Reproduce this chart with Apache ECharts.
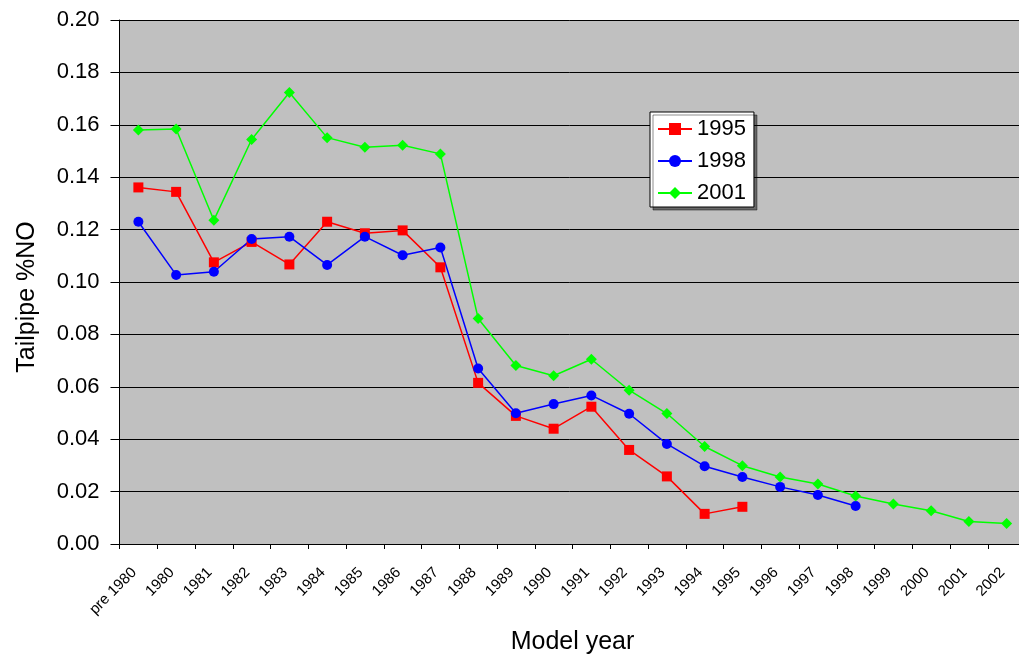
<!DOCTYPE html>
<html>
<head>
<meta charset="utf-8">
<title>Tailpipe %NO by model year</title>
<script src="https://cdn.jsdelivr.net/npm/echarts@6/dist/echarts.min.js"></script>
<style>
  html, body { margin: 0; padding: 0; background: #ffffff; }
  #chart { width: 1019px; height: 657px; }
</style>
</head>
<body>
<div id="chart"></div>
<script>
// Model-year categories along the x axis
const modelYears = ['pre 1980', '1980', '1981', '1982', '1983', '1984', '1985', '1986',
  '1987', '1988', '1989', '1990', '1991', '1992', '1993', '1994', '1995', '1996',
  '1997', '1998', '1999', '2000', '2001', '2002'];

// Mean tailpipe %NO measured in each survey year (null = model year not yet on the road)
const survey1995 = [0.1361, 0.1344, 0.1075, 0.1153, 0.1067, 0.1230, 0.1186, 0.1197,
  0.1056, 0.0615, 0.0489, 0.0440, 0.0524, 0.0359, 0.0258, 0.0115, 0.0142,
  null, null, null, null, null, null, null];
const survey1998 = [0.1230, 0.1027, 0.1039, 0.1164, 0.1173, 0.1065, 0.1173, 0.1102,
  0.1132, 0.0670, 0.0499, 0.0534, 0.0567, 0.0497, 0.0382, 0.0297, 0.0256,
  0.0218, 0.0187, 0.0145, null, null, null, null];
const survey2001 = [0.1580, 0.1584, 0.1236, 0.1544, 0.1723, 0.1551, 0.1514, 0.1522,
  0.1489, 0.0861, 0.0681, 0.0642, 0.0705, 0.0587, 0.0498, 0.0372, 0.0299,
  0.0256, 0.0229, 0.0183, 0.0153, 0.0127, 0.0086, 0.0078];

// Y-axis range and tick step
const yMin = 0;
const yMax = 0.20;
const yStep = 0.02;

const FONT = '"Liberation Sans", Arial, sans-serif';

const chart = echarts.init(document.getElementById('chart'), null, { renderer: 'canvas' });

function lineSeries(name, data, color, symbol, size) {
  return {
    name: name,
    type: 'line',
    data: data,
    symbol: symbol,
    symbolSize: size,
    showAllSymbol: true,
    connectNulls: false,
    animation: false,
    lineStyle: { color: color, width: 1.5 },
    itemStyle: { color: color, borderWidth: 0 },
    emphasis: { disabled: true }
  };
}

chart.setOption({
  animation: false,
  backgroundColor: '#ffffff',
  textStyle: { fontFamily: FONT },
  grid: {
    left: 119.5,
    top: 20,
    width: 906,
    height: 524,
    containLabel: false,
    outerBoundsMode: 'none',
    show: true,
    backgroundColor: '#c0c0c0',
    borderWidth: 0
  },
  legend: {
    orient: 'vertical',
    left: 650,
    top: 112,
    data: ['1995', '1998', '2001'],
    itemWidth: 34,
    itemHeight: 15,
    itemGap: 10,
    padding: [6, 8, 3, 7],
    backgroundColor: '#ffffff',
    borderColor: '#000000',
    borderWidth: 1,
    shadowColor: 'rgba(0,0,0,0.45)',
    shadowOffsetX: 3,
    shadowOffsetY: 3,
    shadowBlur: 0,
    textStyle: { fontFamily: FONT, fontSize: 22, color: '#000000' }
  },
  xAxis: {
    type: 'category',
    data: modelYears,
    boundaryGap: true,
    name: 'Model year',
    nameLocation: 'middle',
    nameGap: 86,
    nameTextStyle: { fontFamily: FONT, fontSize: 25, color: '#000000' },
    axisLine: { show: true, lineStyle: { color: '#000000', width: 1 } },
    axisTick: { show: true, length: 5, alignWithLabel: false, interval: 0, lineStyle: { color: '#000000' } },
    axisLabel: {
      interval: 0,
      rotate: 45,
      margin: 22,
      padding: [0, 6, 0, 0],
      fontFamily: FONT,
      fontSize: 15,
      color: '#000000'
    },
    splitLine: { show: false }
  },
  yAxis: {
    type: 'value',
    min: yMin,
    max: yMax,
    interval: yStep,
    name: 'Tailpipe %NO',
    nameLocation: 'middle',
    nameGap: 80,
    nameTextStyle: { fontFamily: FONT, fontSize: 25, color: '#000000', padding: [0, 30, 0, 0] },
    axisLine: { show: true, lineStyle: { color: '#000000', width: 1 } },
    axisTick: { show: true, length: 9, inside: false, lineStyle: { color: '#000000' } },
    axisLabel: {
      margin: 20,
      fontFamily: FONT,
      fontSize: 22,
      color: '#000000',
      formatter: function (v) { return v.toFixed(2); }
    },
    splitLine: { show: true, lineStyle: { color: '#000000', width: 1 } }
  },
  series: [
    lineSeries('1995', survey1995, '#ff0000', 'rect', 10),
    lineSeries('1998', survey1998, '#0000ff', 'circle', 10),
    lineSeries('2001', survey2001, '#00ff00', 'diamond', 11)
  ]
});
</script>
</body>
</html>
